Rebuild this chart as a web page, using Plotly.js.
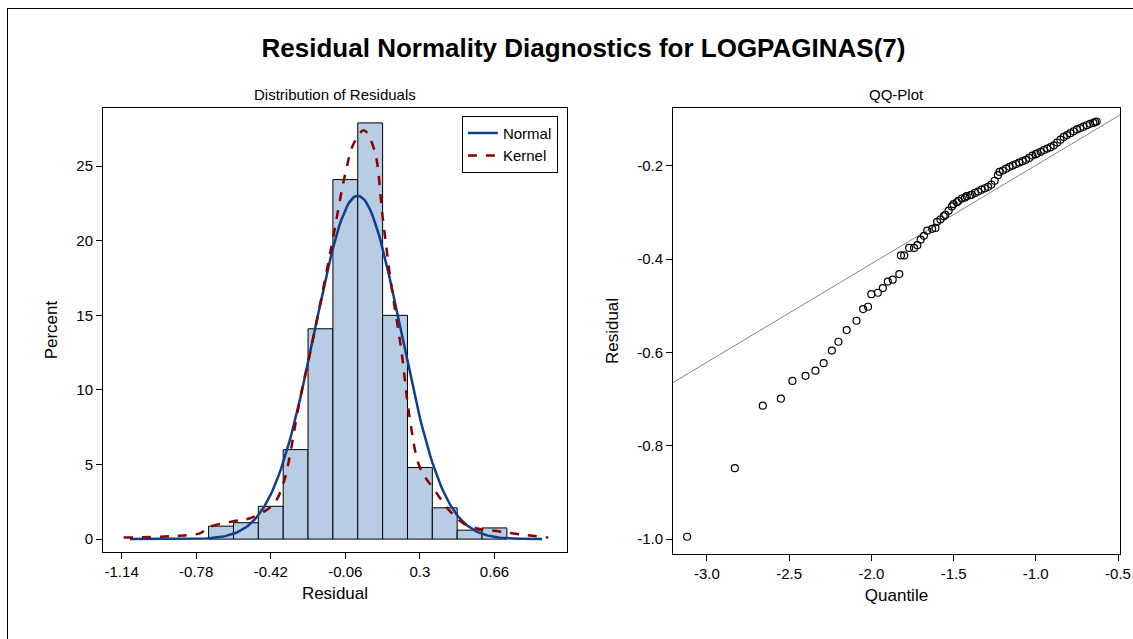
<!DOCTYPE html>
<html>
<head>
<script src="https://cdn.plot.ly/plotly-3.0.1.min.js"></script>
<style>
body { margin: 0; background: #fff; }
#frame { position: absolute; left: 7px; top: 8px; width: 1140px; height: 640px; border-left: 1px solid #000; border-top: 1px solid #000; }
#chart { position: absolute; left: 0; top: 0; width: 1133px; height: 639px; }
</style>
</head>
<body>
<div id="frame"></div>
<div id="chart"></div>
<script>
// histogram bins (midpoints) and percent
const binMid = [-0.66, -0.54, -0.42, -0.30, -0.18, -0.06, 0.06, 0.18, 0.30, 0.42, 0.54, 0.66];
const binPct = [0.87, 1.1, 2.2, 6.0, 14.1, 24.1, 27.9, 15.0, 4.8, 2.1, 0.6, 0.75];

// fitted normal
const normMu = 0.0;
const normSigma = 0.208;

// kernel density
const kernX = [-1.13, -0.9, -0.76, -0.72, -0.6, -0.52, -0.41, -0.36, -0.28, -0.21, -0.13, -0.06, -0.02, 0.03, 0.08, 0.12, 0.16, 0.21, 0.25, 0.30, 0.37, 0.45, 0.53, 0.69, 0.92];
const kernY = [0.1, 0.2, 0.4, 0.8, 1.2, 1.4, 2.3, 3.7, 9.3, 13.8, 19.4, 24.5, 26.5, 27.4, 26.1, 21.6, 17.2, 12.7, 8.2, 4.8, 3.3, 1.8, 0.9, 0.5, 0.1];

const xTickVals = [-1.14, -0.78, -0.42, -0.06, 0.3, 0.66];

// QQ plot points
const qqX = [-3.12, -2.83, -2.66, -2.55, -2.48, -2.40, -2.34, -2.29, -2.24, -2.20, -2.15, -2.09, -2.05, -2.02, -2.00, -1.96, -1.93, -1.90, -1.87, -1.83,
  -1.82, -1.80, -1.77, -1.74, -1.72, -1.70, -1.68, -1.66, -1.63, -1.61, -1.60, -1.58, -1.56, -1.55, -1.53, -1.51, -1.50, -1.48, -1.47, -1.45,
  -1.43, -1.42, -1.40, -1.39, -1.37, -1.35, -1.33, -1.31, -1.29, -1.27, -1.25, -1.23, -1.22, -1.20, -1.18, -1.16, -1.14, -1.12, -1.10, -1.08,
  -1.06, -1.04, -1.02, -1.00, -0.99, -0.97, -0.95, -0.93, -0.91, -0.89, -0.87, -0.85, -0.83, -0.81, -0.79, -0.77, -0.75, -0.73, -0.71, -0.69,
  -0.67, -0.65, -0.64, -0.63];
const qqY = [-0.995, -0.848, -0.714, -0.699, -0.661, -0.650, -0.639, -0.623, -0.596, -0.577, -0.552, -0.532, -0.507, -0.502, -0.475, -0.472, -0.462, -0.448, -0.444, -0.432,
  -0.392, -0.392, -0.376, -0.376, -0.370, -0.358, -0.350, -0.339, -0.335, -0.333, -0.320, -0.315, -0.308, -0.305, -0.296, -0.287, -0.282, -0.278, -0.275, -0.270,
  -0.268, -0.265, -0.263, -0.262, -0.258, -0.255, -0.251, -0.248, -0.245, -0.240, -0.232, -0.220, -0.213, -0.210, -0.206, -0.202, -0.199, -0.196, -0.193, -0.190,
  -0.187, -0.183, -0.178, -0.175, -0.173, -0.170, -0.166, -0.163, -0.160, -0.156, -0.150, -0.144, -0.138, -0.134, -0.130, -0.126, -0.122, -0.119, -0.116, -0.113,
  -0.110, -0.108, -0.106, -0.105];
const refIntercept = 0.012;
const refSlope = 0.211;

const normX = [], normY = [];
for (let x = -1.1; x <= 0.9; x += 0.01) {
  normX.push(x);
  normY.push(100 * 0.12 / (normSigma * Math.sqrt(2 * Math.PI)) * Math.exp(-0.5 * Math.pow((x - normMu) / normSigma, 2)));
}
const refX = [-3.4, -0.3];
const refY = refX.map(x => refIntercept + refSlope * x);

const font = { family: 'Liberation Sans, Arial, sans-serif', color: '#000' };
const axisBase = { showline: true, linecolor: '#000', linewidth: 1, mirror: true, ticks: 'outside', ticklen: 6, tickcolor: '#000',
  showgrid: false, zeroline: false, tickfont: { size: 15, family: font.family, color: '#000' } };

const traces = [
  { type: 'bar', x: binMid, y: binPct, width: 0.12, marker: { color: '#b8cce4', line: { color: '#000', width: 1 } }, showlegend: false, xaxis: 'x', yaxis: 'y' },
  { type: 'scatter', mode: 'lines', x: normX, y: normY, name: 'Normal', line: { color: '#0e3e8c', width: 2.5 }, xaxis: 'x', yaxis: 'y' },
  { type: 'scatter', mode: 'lines', x: kernX, y: kernY, name: 'Kernel', line: { color: '#8b0000', width: 2.5, dash: 'dash', shape: 'spline' }, xaxis: 'x', yaxis: 'y' },
  { type: 'scatter', mode: 'lines', x: refX, y: refY, line: { color: '#888', width: 1 }, showlegend: false, xaxis: 'x2', yaxis: 'y2' },
  { type: 'scatter', mode: 'markers', x: qqX, y: qqY, marker: { symbol: 'circle-open', size: 7, color: '#000', line: { width: 1.2 } }, showlegend: false, xaxis: 'x2', yaxis: 'y2' }
];

const layout = {
  width: 1133, height: 639,
  margin: { l: 0, r: 0, t: 0, b: 0 },
  paper_bgcolor: 'rgba(0,0,0,0)', plot_bgcolor: '#fff',
  font: font,
  bargap: 0,
  title: { text: '<b>Residual Normality Diagnostics for LOGPAGINAS(7)</b>', x: 0.515, xanchor: 'center', y: 0.925, yanchor: 'middle', font: { size: 26, family: font.family } },
  xaxis: Object.assign({}, axisBase, { domain: [0.0909, 0.5004], range: [-1.23, 1.01], tickvals: xTickVals, ticktext: xTickVals.map(String), anchor: 'y',
    title: { text: 'Residual', font: { size: 17 }, standoff: 8 } }),
  yaxis: Object.assign({}, axisBase, { domain: [0.136, 0.831], range: [-0.87, 28.9], tickvals: [0, 5, 10, 15, 20, 25], anchor: 'x',
    title: { text: 'Percent', font: { size: 17 }, standoff: 14 } }),
  xaxis2: Object.assign({}, axisBase, { domain: [0.594, 0.9885], range: [-3.206, -0.488], tickvals: [-3.0, -2.5, -2.0, -1.5, -1.0, -0.5], ticktext: ['-3.0', '-2.5', '-2.0', '-1.5', '-1.0', '-0.5'], anchor: 'y2',
    title: { text: 'Quantile', font: { size: 17 }, standoff: 8 } }),
  yaxis2: Object.assign({}, axisBase, { domain: [0.133, 0.831], range: [-1.032, -0.076], tickvals: [-1.0, -0.8, -0.6, -0.4, -0.2], ticktext: ['-1.0', '-0.8', '-0.6', '-0.4', '-0.2'], anchor: 'x2',
    title: { text: 'Residual', font: { size: 17 }, standoff: 14 } }),
  legend: { x: 0.5004 - 0.008, xanchor: 'right', y: 0.831 - 0.012, yanchor: 'top', bordercolor: '#000', borderwidth: 1, bgcolor: '#fff', font: { size: 15 }, tracegroupgap: 0 },
  annotations: [
    { text: 'Distribution of Residuals', xref: 'paper', yref: 'paper', x: 0.2956, y: 0.835, xanchor: 'center', yanchor: 'bottom', showarrow: false, font: { size: 15 } },
    { text: 'QQ-Plot', xref: 'paper', yref: 'paper', x: 0.7912, y: 0.835, xanchor: 'center', yanchor: 'bottom', showarrow: false, font: { size: 15 } }
  ]
};

Plotly.newPlot('chart', traces, layout, { displayModeBar: false, staticPlot: true });
</script>
</body>
</html>
